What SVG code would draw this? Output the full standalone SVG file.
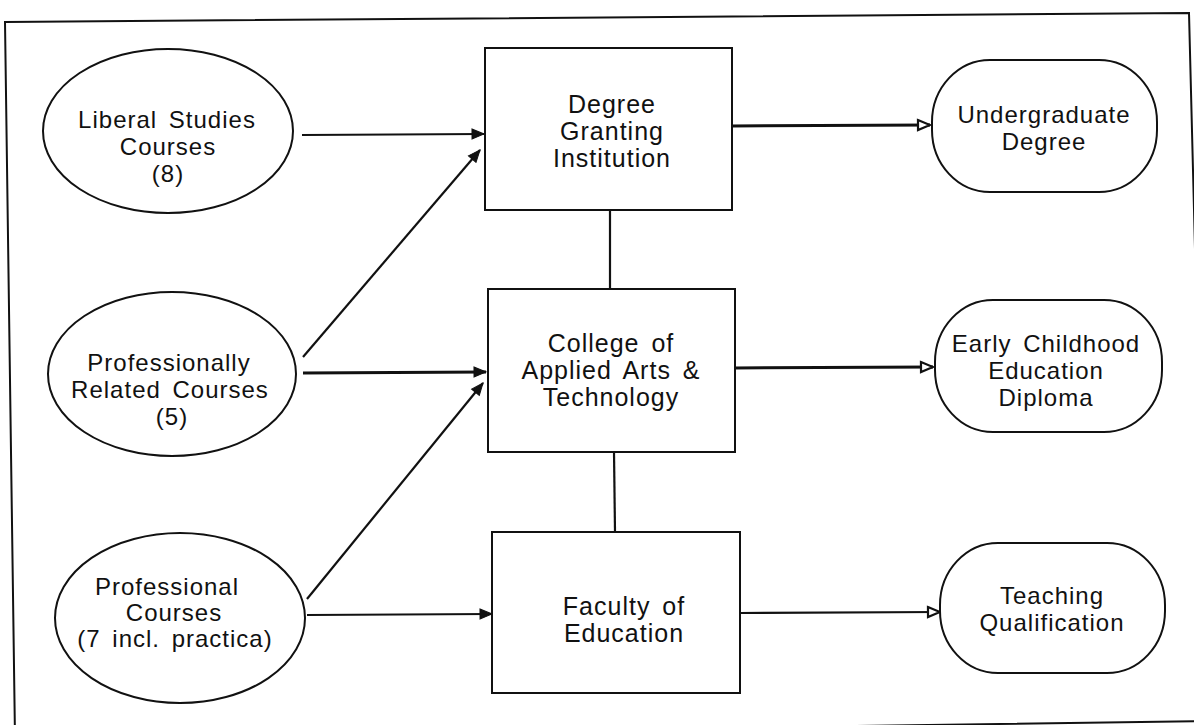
<svg xmlns="http://www.w3.org/2000/svg" width="1194" height="725" viewBox="0 0 1194 725">
<style>
  .shape { fill: #ffffff; stroke: #111111; stroke-width: 2; }
  .conn { fill: none; stroke: #111111; stroke-width: 2.2; }
  .thick { stroke-width: 3; }
  .lbl { font-family: "Liberation Sans", Arial, sans-serif; font-size: 24px; fill: #111111; text-anchor: middle; letter-spacing: 1px; word-spacing: 4px; }
  .blbl { font-size: 25px; }
</style>
<defs>
  <marker id="arrFill" markerUnits="userSpaceOnUse" markerWidth="14" markerHeight="12" refX="13" refY="6" orient="auto" viewBox="0 0 14 12">
    <path d="M1,1 L13,6 L1,11 Z" fill="#111111" stroke="#111111" stroke-width="1"/>
  </marker>
  <marker id="arrOpen" markerUnits="userSpaceOnUse" markerWidth="16" markerHeight="14" refX="14" refY="7" orient="auto" viewBox="0 0 16 14">
    <path d="M2,2 L14,7 L2,12 Z" fill="#ffffff" stroke="#111111" stroke-width="2.2" stroke-linejoin="miter"/>
  </marker>
</defs>
<rect width="1194" height="725" fill="#ffffff"/>
<g id="frame">
  <polygon points="5,22 1189,13 1207,721 15,738" fill="none" stroke="#111111" stroke-width="2"/>
</g>
<g id="connectors">
  <line class="conn" x1="302" y1="135" x2="484" y2="134" marker-end="url(#arrFill)"/>
  <line class="conn" x1="303" y1="357" x2="480" y2="150" marker-end="url(#arrFill)"/>
  <line class="conn thick" x1="303" y1="373" x2="486" y2="372" marker-end="url(#arrFill)"/>
  <line class="conn" x1="307" y1="599" x2="483" y2="383" marker-end="url(#arrFill)"/>
  <line class="conn" x1="307" y1="615" x2="492" y2="614" marker-end="url(#arrFill)"/>
  <line class="conn thick" x1="732" y1="126" x2="930" y2="125" marker-end="url(#arrOpen)"/>
  <line class="conn thick" x1="735" y1="368" x2="933" y2="367" marker-end="url(#arrOpen)"/>
  <line class="conn" x1="740" y1="613" x2="940" y2="612" marker-end="url(#arrOpen)"/>
  <line class="conn" x1="610" y1="210" x2="610" y2="289"/>
  <line class="conn" x1="614" y1="452" x2="615" y2="532"/>
</g>
<g id="liberal-studies">
  <ellipse class="shape" cx="168" cy="131" rx="125" ry="82"/>
  <text class="lbl" x="167" y="128">Liberal Studies</text>
  <text class="lbl" x="168" y="155">Courses</text>
  <text class="lbl" x="168" y="182">(8)</text>
</g>
<g id="professionally-related">
  <ellipse class="shape" cx="172" cy="374" rx="124" ry="82"/>
  <text class="lbl" x="169" y="371">Professionally</text>
  <text class="lbl" x="170" y="398">Related Courses</text>
  <text class="lbl" x="172" y="425">(5)</text>
</g>
<g id="professional-courses">
  <ellipse class="shape" cx="180" cy="618" rx="125" ry="85"/>
  <text class="lbl" x="167" y="595">Professional</text>
  <text class="lbl" x="174" y="621">Courses</text>
  <text class="lbl" x="175" y="647">(7 incl. practica)</text>
</g>
<g id="degree-granting">
  <rect class="shape" x="485" y="48" width="247" height="162"/>
  <text class="lbl blbl" x="612" y="113">Degree</text>
  <text class="lbl blbl" x="612" y="140">Granting</text>
  <text class="lbl blbl" x="612" y="167">Institution</text>
</g>
<g id="college">
  <rect class="shape" x="488" y="289" width="247" height="163"/>
  <text class="lbl blbl" x="611" y="352">College of</text>
  <text class="lbl blbl" x="611" y="379">Applied Arts &amp;</text>
  <text class="lbl blbl" x="611" y="406">Technology</text>
</g>
<g id="faculty">
  <rect class="shape" x="492" y="532" width="248" height="161"/>
  <text class="lbl blbl" x="624" y="615">Faculty of</text>
  <text class="lbl blbl" x="624" y="642">Education</text>
</g>
<g id="undergraduate">
  <rect class="shape" x="932" y="60" width="225" height="132" rx="58" ry="62"/>
  <text class="lbl" x="1044" y="123">Undergraduate</text>
  <text class="lbl" x="1044" y="150">Degree</text>
</g>
<g id="early-childhood">
  <rect class="shape" x="935" y="300" width="227" height="132" rx="58" ry="62"/>
  <text class="lbl" x="1046" y="352">Early Childhood</text>
  <text class="lbl" x="1046" y="379">Education</text>
  <text class="lbl" x="1046" y="406">Diploma</text>
</g>
<g id="teaching">
  <rect class="shape" x="940" y="543" width="225" height="130" rx="58" ry="62"/>
  <text class="lbl" x="1052" y="604">Teaching</text>
  <text class="lbl" x="1052" y="631">Qualification</text>
</g>
</svg>
